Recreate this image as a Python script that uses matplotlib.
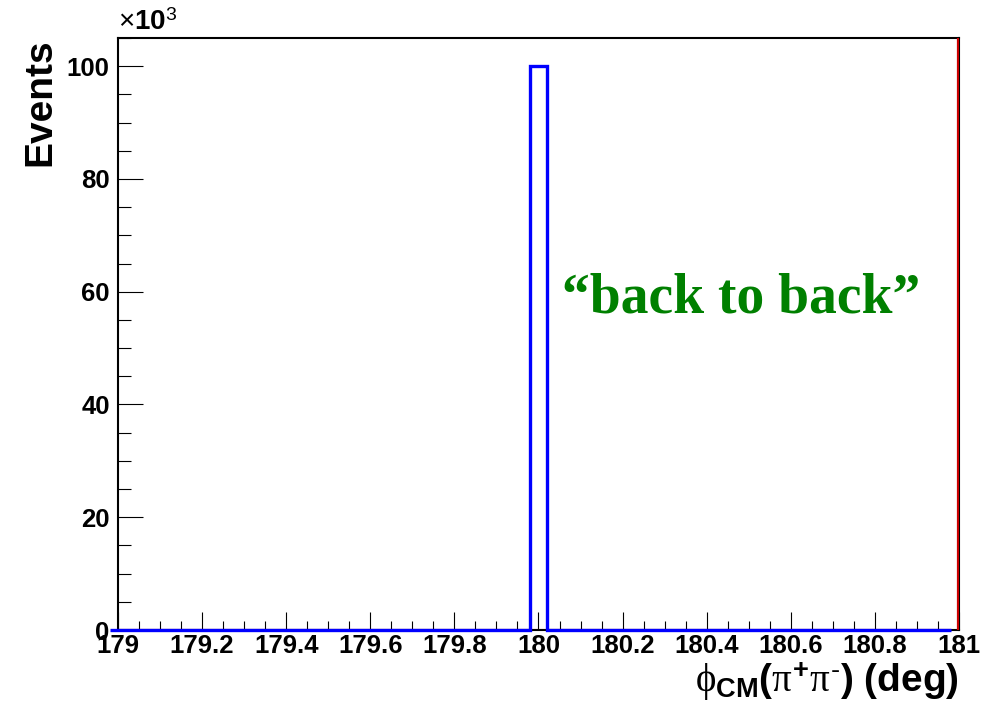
import matplotlib.pyplot as plt
import numpy as np
from matplotlib.ticker import MultipleLocator, FuncFormatter

plt.rcParams['font.family'] = ['Liberation Sans', 'DejaVu Sans']
plt.rcParams['mathtext.fontset'] = 'custom'
plt.rcParams['mathtext.rm'] = 'Liberation Sans'
plt.rcParams['mathtext.bf'] = 'Liberation Sans:bold'
plt.rcParams['mathtext.it'] = 'Liberation Serif'

# phi_CM(pi+ pi-) histogram, 50 bins over 179..181 deg, counts in units of 10^3
edges = np.linspace(179.0, 181.0, 51)
counts_k = np.zeros(50)
counts_k[25] = 100.0          # everything lands in the 180 deg bin
ref_counts_k = np.zeros(50)   # reference histogram, empty inside the window

fig = plt.figure(figsize=[10.05, 7.04], dpi=100)
ax = fig.add_axes([0.1174, 0.1051, 0.8368, 0.8409])

ax.stairs(ref_counts_k, edges - 0.02, color='red', linewidth=1.5, zorder=2)
ax.axvline(180.997, color='#cc0000', linewidth=1.6, zorder=4)
ax.stairs(counts_k, edges - 0.02, color='blue', linewidth=2.4, zorder=4,
          clip_on=False)

ax.set_xlim(179.0, 181.0)
ax.set_ylim(0, 105)

ax.xaxis.set_major_locator(MultipleLocator(0.2))
ax.xaxis.set_minor_locator(MultipleLocator(0.05))
ax.yaxis.set_major_locator(MultipleLocator(20))
ax.yaxis.set_minor_locator(MultipleLocator(5))
ax.xaxis.set_major_formatter(FuncFormatter(lambda v, p: ('%g' % round(v, 1))))

ax.tick_params(axis='x', which='major', direction='in', length=13, width=0.8,
               labelsize=18.5, pad=3)
ax.tick_params(axis='x', which='minor', direction='in', length=6.5, width=0.8)
ax.tick_params(axis='y', which='major', direction='in', length=18, width=0.8,
               labelsize=18.5, pad=6)
ax.tick_params(axis='y', which='minor', direction='in', length=9, width=0.8)
for lab in ax.get_xticklabels() + ax.get_yticklabels():
    lab.set_fontweight('bold')

for s in ax.spines.values():
    s.set_linewidth(1.5)

ax.set_ylabel('Events', fontsize=28, fontweight='bold', loc='top', labelpad=6)
ax.set_xlabel(r'$\phi_{\mathbf{CM}}\mathbf{(}\pi^{\mathbf{+}}\pi^{\text{-}}\mathbf{)\ (deg)}$',
              fontsize=28, loc='right', labelpad=2)

ax.text(0.0, 1.003, r'$\times\mathbf{10}^{3}$', transform=ax.transAxes,
        fontsize=20, ha='left', va='bottom')

ax.text(180.057, 56.3, '\u201cback to back\u201d', color='#008000',
        fontsize=40, fontweight='bold', family='Liberation Serif',
        ha='left', va='baseline')

fig.savefig('out.png', dpi=100)
